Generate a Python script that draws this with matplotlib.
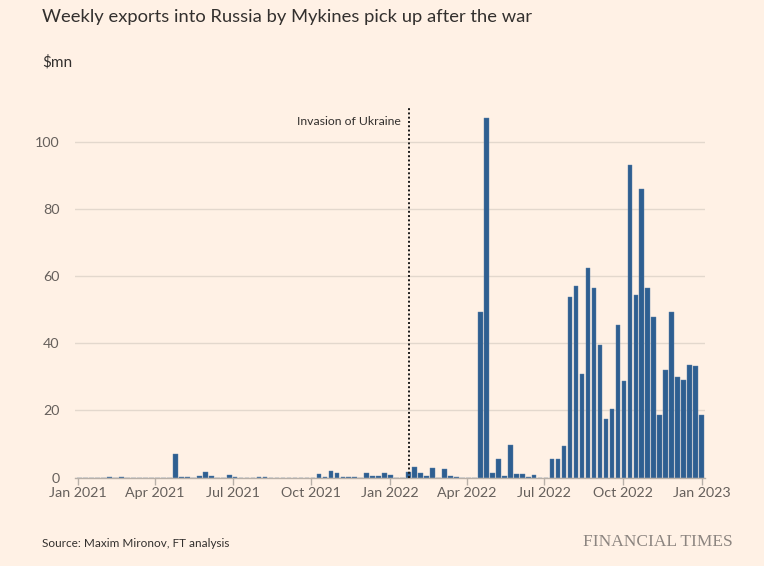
import matplotlib
matplotlib.use("Agg")
import matplotlib.pyplot as plt
import matplotlib.dates as mdates
import pandas as pd

# weekly export values, $mn, one per week starting Sunday 3 Jan 2021
first_week = "2021-01-03"
exports = [
    0, 0, 0, 0, 0, 0.2, 0, 0.1, 0, 0,
    0, 0, 0, 0, 0, 0, 7.0, 0.3, 0.3, 0,
    0.6, 1.8, 0.4, 0, 0, 0.7, 0.2, 0, 0, 0,
    0.2, 0.1, 0, 0, 0, 0, 0, 0, 0, 0,
    1.0, 0.3, 2.1, 1.5, 0.2, 0.3, 0.3, 0, 1.4, 0.5,
    0.6, 1.4, 0.9, 0, 0, 1.8, 3.1, 1.4, 0.4, 2.8,
    0, 2.7, 0.5, 0.2, 0, 0, 0, 49.4, 107.0, 1.3,
    5.5, 0.6, 9.7, 1.0, 1.2, 0.3, 0.9, 0, 0, 5.7,
    5.7, 9.4, 53.7, 57.0, 30.8, 62.4, 56.5, 39.6, 17.5, 20.3,
    45.3, 28.9, 92.9, 54.4, 86.0, 56.3, 47.7, 18.6, 31.9, 49.4,
    30.0, 29.0, 33.6, 33.1, 18.7,
]
weeks = pd.date_range(first_week, periods=len(exports), freq="7D")

tick_dates = ["2021-01-01", "2021-04-01", "2021-07-01", "2021-10-01",
              "2022-01-01", "2022-04-01", "2022-07-01", "2022-10-01",
              "2023-01-01"]
y_ticks = [0, 20, 40, 60, 80, 100]
invasion_marker = "2022-01-23"

bg = "#fff1e5"
bar_col = "#2e5f91"
text_col = "#33302e"
label_col = "#66605c"

plt.rcParams["font.family"] = ["Lato", "DejaVu Sans"]

fig = plt.figure(figsize=(7.64, 5.66), dpi=100, facecolor=bg)
ax = fig.add_axes([0.0982, 0.156, 0.8246, 0.6532], facecolor=bg)

ax.bar(weeks, exports, width=5.4, color=bar_col, edgecolor="#5a80a8",
       linewidth=0.3, zorder=3)

ax.set_ylim(0, 110)
ax.set_xlim(pd.Timestamp("2020-12-28 12:00"), pd.Timestamp("2023-01-05"))
ax.set_yticks(y_ticks)
ax.set_xticks(pd.to_datetime(tick_dates))
ax.xaxis.set_major_formatter(mdates.DateFormatter("%b %Y"))

ax.grid(axis="y", color="#e3d8cd", linewidth=1, zorder=0)
for s in ["top", "right", "left"]:
    ax.spines[s].set_visible(False)
ax.spines["bottom"].set_color("#b8b0a8")
ax.spines["bottom"].set_linewidth(1)
ax.spines["bottom"].set_zorder(4)

ax.tick_params(axis="y", length=0, pad=11, labelsize=10.3, labelcolor=label_col)
ax.tick_params(axis="x", length=5, width=1, color="#b8b0a8", pad=2,
               labelsize=10.3, labelcolor=label_col)

# dotted marker line with its label to the left
inv = pd.Timestamp(invasion_marker)
ax.axvline(inv, color="#1a1a1a", linestyle=(0, (1, 1.2)), linewidth=1.4,
           zorder=5)
ax.annotate("Invasion of Ukraine", xy=(inv, 110), xycoords="data",
            xytext=(-5.8, -9.4), textcoords="offset points", ha="right",
            va="center", fontsize=8.8, color=text_col)

fig.text(0.055, 0.970, "Weekly exports into Russia by Mykines pick up after the war",
         fontsize=13.2, color=text_col, va="center")
fig.text(0.055, 0.890, "$mn", fontsize=11, color=text_col, va="center")
fig.text(0.055, 0.039, "Source: Maxim Mironov, FT analysis", fontsize=8.5,
         color=text_col, va="center")
fig.text(0.959, 0.042, "FINANCIAL TIMES", fontsize=12.5, color="#8c8580",
         family="Liberation Serif", ha="right", va="center")

fig.savefig("out.png", dpi=100, facecolor=bg)
